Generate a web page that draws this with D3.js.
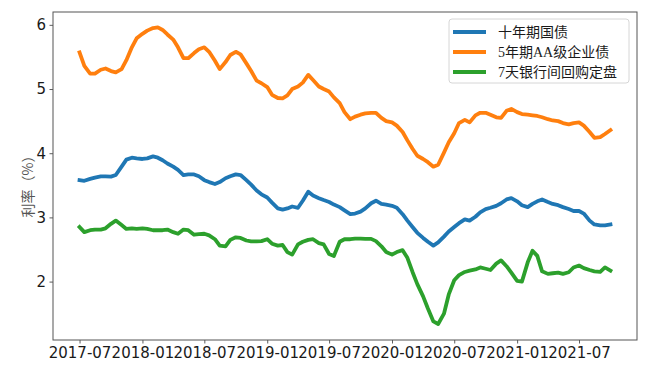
<!DOCTYPE html>
<html>
<head>
<meta charset="utf-8">
<script src="https://cdn.jsdelivr.net/npm/d3@7"></script>
<style>
  body { margin: 0; background: #fff; }
  svg { display: block; }
</style>
</head>
<body>
<div id="chart"></div>
<script>
const width = 656;
const height = 375;
const margin = { top: 12, right: 19, bottom: 35, left: 53 };

const dates = [
  "2017-07-01", "2017-07-15", "2017-08-01", "2017-08-15", "2017-09-01", "2017-09-15",
  "2017-10-01", "2017-10-15", "2017-11-01", "2017-11-15", "2017-12-01", "2017-12-15",
  "2018-01-01", "2018-01-15", "2018-02-01", "2018-02-15", "2018-03-01", "2018-03-15",
  "2018-04-01", "2018-04-15", "2018-05-01", "2018-05-15", "2018-06-01", "2018-06-15",
  "2018-07-01", "2018-07-15", "2018-08-01", "2018-08-15", "2018-09-01", "2018-09-15",
  "2018-10-01", "2018-10-15", "2018-11-01", "2018-11-15", "2018-12-01", "2018-12-15",
  "2019-01-01", "2019-01-15", "2019-02-01", "2019-02-15", "2019-03-01", "2019-03-15",
  "2019-04-01", "2019-04-15", "2019-05-01", "2019-05-15", "2019-06-01", "2019-06-15",
  "2019-07-01", "2019-07-15", "2019-08-01", "2019-08-15", "2019-09-01", "2019-09-15",
  "2019-10-01", "2019-10-15", "2019-11-01", "2019-11-15", "2019-12-01", "2019-12-15",
  "2020-01-01", "2020-01-15", "2020-02-01", "2020-02-15", "2020-03-01", "2020-03-15",
  "2020-04-01", "2020-04-15", "2020-05-01", "2020-05-15", "2020-06-01", "2020-06-15",
  "2020-07-01", "2020-07-15", "2020-08-01", "2020-08-15", "2020-09-01", "2020-09-15",
  "2020-10-01", "2020-10-15", "2020-11-01", "2020-11-15", "2020-12-01", "2020-12-15",
  "2021-01-01", "2021-01-15", "2021-02-01", "2021-02-15", "2021-03-01", "2021-03-15",
  "2021-04-01", "2021-04-15", "2021-05-01", "2021-05-15", "2021-06-01", "2021-06-15",
  "2021-07-01", "2021-07-15", "2021-08-01", "2021-08-15", "2021-09-01", "2021-09-15",
  "2021-10-01"
];

// 十年期国债
const treasury10y = [
  3.58, 3.57, 3.60, 3.62, 3.64, 3.64, 3.635, 3.66, 3.79, 3.90, 3.93, 3.92,
  3.91, 3.92, 3.95, 3.93, 3.89, 3.84, 3.79, 3.74, 3.66, 3.67, 3.67, 3.64,
  3.58, 3.55, 3.52, 3.55, 3.61, 3.64, 3.67, 3.66, 3.58, 3.51, 3.42, 3.36,
  3.31, 3.23, 3.14, 3.12, 3.14, 3.17, 3.15, 3.26, 3.40, 3.34, 3.30, 3.27,
  3.24, 3.20, 3.16, 3.11, 3.05, 3.06, 3.09, 3.14, 3.22, 3.26, 3.21, 3.20,
  3.18, 3.15, 3.05, 2.95, 2.85, 2.76, 2.68, 2.62, 2.56, 2.61, 2.70, 2.78,
  2.85, 2.91, 2.97, 2.95, 3.01, 3.08, 3.13, 3.15, 3.18, 3.22, 3.28, 3.30,
  3.25, 3.19, 3.16, 3.21, 3.25, 3.28, 3.24, 3.21, 3.19, 3.16, 3.13, 3.10,
  3.10, 3.06, 2.95, 2.89, 2.875, 2.875, 2.89
];

// 5年期AA级企业债
const corpAA5y = [
  5.57, 5.36, 5.24, 5.24, 5.30, 5.32, 5.28, 5.26, 5.31, 5.45, 5.65, 5.79,
  5.86, 5.91, 5.95, 5.96, 5.92, 5.85, 5.77, 5.65, 5.48, 5.48, 5.56, 5.62,
  5.65, 5.58, 5.44, 5.31, 5.42, 5.53, 5.58, 5.54, 5.40, 5.28, 5.13, 5.09,
  5.03, 4.91, 4.86, 4.855, 4.90, 5.00, 5.04, 5.10, 5.22, 5.14, 5.04, 5.00,
  4.96, 4.87, 4.78, 4.64, 4.53, 4.57, 4.60, 4.62, 4.63, 4.63, 4.55, 4.50,
  4.48, 4.43, 4.33, 4.20, 4.07, 3.96, 3.91, 3.86, 3.79, 3.82, 4.01, 4.17,
  4.31, 4.47, 4.52, 4.48, 4.59, 4.63, 4.63, 4.60, 4.56, 4.55, 4.66, 4.69,
  4.64, 4.61, 4.60, 4.59, 4.58, 4.56, 4.53, 4.51, 4.50, 4.47, 4.45, 4.47,
  4.48, 4.43, 4.33, 4.24, 4.25, 4.30, 4.36
];

// 7天银行间回购定盘
const repo7d = [
  2.85, 2.77, 2.80, 2.81, 2.81, 2.83, 2.90, 2.95, 2.88, 2.82, 2.83, 2.82,
  2.83, 2.82, 2.80, 2.80, 2.80, 2.81, 2.77, 2.745, 2.81, 2.80, 2.73, 2.74,
  2.745, 2.72, 2.66, 2.56, 2.55, 2.65, 2.69, 2.68, 2.64, 2.625, 2.625, 2.63,
  2.66, 2.59, 2.56, 2.57, 2.46, 2.42, 2.58, 2.62, 2.65, 2.66, 2.60, 2.58,
  2.43, 2.40, 2.62, 2.66, 2.66, 2.67, 2.67, 2.665, 2.665, 2.63, 2.55, 2.46,
  2.42, 2.46, 2.49, 2.37, 2.15, 1.96, 1.77, 1.58, 1.38, 1.34, 1.50, 1.80,
  2.02, 2.10, 2.15, 2.17, 2.19, 2.22, 2.20, 2.18, 2.28, 2.33, 2.24, 2.14,
  2.01, 2.00, 2.30, 2.48, 2.40, 2.16, 2.12, 2.13, 2.14, 2.12, 2.145, 2.22,
  2.25, 2.21, 2.18, 2.16, 2.15, 2.22, 2.17
];

const seriesNames = ["十年期国债", "5年期AA级企业债", "7天银行间回购定盘"];
const seriesColors = ["#1f77b4", "#ff7f0e", "#2ca02c"];
const xTickDates = ["2017-07-01", "2018-01-01", "2018-07-01", "2019-01-01", "2019-07-01",
  "2020-01-01", "2020-07-01", "2021-01-01", "2021-07-01"];
const yTicks = [2, 3, 4, 5, 6];

const parseDate = d3.timeParse("%Y-%m-%d");
const parsedDates = dates.map(parseDate);
const allSeries = [treasury10y, corpAA5y, repo7d];

// matplotlib-style 5% margins on the time axis
const tExtent = d3.extent(parsedDates);
const tPad = (tExtent[1] - tExtent[0]) * 0.05;

const xScale = d3
  .scaleTime()
  .domain([new Date(+tExtent[0] - tPad), new Date(+tExtent[1] + tPad)])
  .range([margin.left, width - margin.right]);

const yScale = d3
  .scaleLinear()
  .domain([1.09, 6.2])
  .range([height - margin.bottom, margin.top]);

const svg = d3
  .select("#chart")
  .append("svg")
  .attr("width", width)
  .attr("height", height);

const tickFont = "'DejaVu Sans', sans-serif";

const xAxis = d3
  .axisBottom(xScale)
  .tickValues(xTickDates.map(parseDate))
  .tickFormat(d3.timeFormat("%Y-%m"))
  .tickSize(3.5)
  .tickPadding(3.5);

const yAxis = d3
  .axisLeft(yScale)
  .tickValues(yTicks)
  .tickFormat(d3.format("d"))
  .tickSize(3.5)
  .tickPadding(3.5);

const gx = svg
  .append("g")
  .attr("transform", `translate(0,${height - margin.bottom})`)
  .call(xAxis);

const gy = svg
  .append("g")
  .attr("transform", `translate(${margin.left},0)`)
  .call(yAxis);

[gx, gy].forEach(g => {
  g.select(".domain").remove();
  g.selectAll(".tick line").attr("stroke", "#333").attr("stroke-width", 0.8);
  g.selectAll(".tick text")
    .attr("fill", "#1a1a1a")
    .style("font-family", tickFont)
    .style("font-size", "15px");
});

svg
  .append("text")
  .attr("transform", `translate(33,${(margin.top + height - margin.bottom) / 2 + 7}) rotate(-90)`)
  .attr("text-anchor", "middle")
  .attr("fill", "#555")
  .style("font-family", "'Noto Sans CJK SC', sans-serif")
  .style("font-size", "14px")
  .text("利率（%）");

const line = d3
  .line()
  .x((d, i) => xScale(parsedDates[i]))
  .y(d => yScale(d));

allSeries.forEach((values, k) => {
  svg
    .append("path")
    .datum(values)
    .attr("fill", "none")
    .attr("stroke", seriesColors[k])
    .attr("stroke-width", 3.8)
    .attr("stroke-linejoin", "round")
    .attr("stroke-linecap", "square")
    .attr("d", line);
});

// axes frame
svg
  .append("rect")
  .attr("x", margin.left)
  .attr("y", margin.top)
  .attr("width", width - margin.left - margin.right)
  .attr("height", height - margin.top - margin.bottom)
  .attr("fill", "none")
  .attr("stroke", "#555")
  .attr("stroke-width", 1);

// legend
const legend = svg.append("g").attr("transform", "translate(449,19)");

legend
  .append("rect")
  .attr("width", 180)
  .attr("height", 64)
  .attr("rx", 3)
  .attr("fill", "#fff")
  .attr("fill-opacity", 0.8)
  .attr("stroke", "#d6d6d6")
  .attr("stroke-width", 1);

seriesNames.forEach((name, k) => {
  const row = legend.append("g").attr("transform", `translate(0,${13 + k * 20})`);
  row
    .append("line")
    .attr("x1", 4)
    .attr("x2", 37)
    .attr("stroke", seriesColors[k])
    .attr("stroke-width", 3.8);
  row
    .append("text")
    .attr("x", 49)
    .attr("y", 5)
    .attr("fill", "#1a1a1a")
    .style("font-family", "'Liberation Serif', 'Noto Sans CJK SC', serif")
    .style("font-size", "14px")
    .text(name);
});
</script>
</body>
</html>
